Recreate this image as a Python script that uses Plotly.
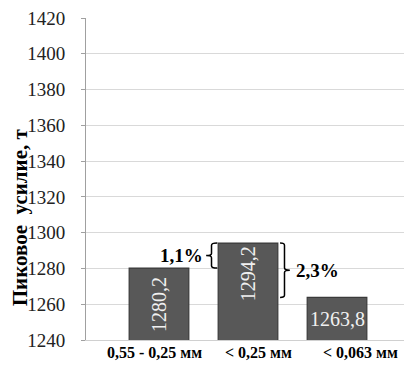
import plotly.graph_objects as go

categories = ["0,55 - 0,25 мм", "< 0,25 мм", "< 0,063 мм"]
values = [1280.2, 1294.2, 1263.8]
y_ticks = [1240, 1260, 1280, 1300, 1320, 1340, 1360, 1380, 1400, 1420]
diff_labels = ["1,1%", "2,3%"]
y_title = "Пиковое  усилие, т"

SERIF = "Liberation Serif"
xs = list(range(len(categories)))

fig = go.Figure()
fig.add_trace(go.Bar(
    x=xs, y=values, base=0, width=0.67,
    marker=dict(color="#585858", line=dict(color="#3a3a3a", width=1.2)),
    hoverinfo="skip",
))

def fmt(v):
    return f"{v:.1f}".replace(".", ",")

ymin = y_ticks[0]
LBL = "#f0f0f0"
# value labels
fig.add_annotation(x=xs[0], y=(ymin + values[0]) / 2, text=fmt(values[0]), textangle=-90,
                   showarrow=False, font=dict(family=SERIF, size=20, color=LBL))
fig.add_annotation(x=xs[1], y=values[1] - 17.5, text=fmt(values[1]), textangle=-90,
                   showarrow=False, font=dict(family=SERIF, size=20, color=LBL))
fig.add_annotation(x=xs[2], y=(ymin + values[2]) / 2, text=fmt(values[2]),
                   showarrow=False, font=dict(family=SERIF, size=20, color=LBL))

# category labels (slightly offset as in reference)
label_offsets = [-0.045, 0.12, 0.26]
for i, c in enumerate(categories):
    fig.add_annotation(x=xs[i] + label_offsets[i], y=0, yref="paper", yshift=-23, text=f"<b>{c}</b>",
                       showarrow=False, font=dict(family=SERIF, size=16, color="black"))

# left brace "{" between bar 1 top and bar 2 top
yt, yb = values[1], values[0]
ym = (yt + yb) / 2
xe, xsp, xt = 0.655, 0.59, 0.53
c = 1.2
path_l = (f"M {xe},{yt} Q {xsp},{yt} {xsp},{yt - c} L {xsp},{ym + c} Q {xsp},{ym} {xt},{ym} "
          f"Q {xsp},{ym} {xsp},{ym - c} L {xsp},{yb + c} Q {xsp},{yb} {xe},{yb}")
fig.add_shape(type="path", path=path_l, line=dict(color="black", width=1.5), xref="x", yref="y")
fig.add_annotation(x=xt, y=ym, xanchor="right", text=f"<b>{diff_labels[0]}</b>", showarrow=False,
                   xshift=-1, font=dict(family=SERIF, size=19, color="black"))

# right brace "}" from bar 2 top to bar 3 top
yt, yb = values[1], values[2]
ym = (yt + yb) / 2
xe, xsp, xt = 1.36, 1.41, 1.47
path_r = (f"M {xe},{yt} Q {xsp},{yt} {xsp},{yt - c} L {xsp},{ym + c} Q {xsp},{ym} {xt},{ym} "
          f"Q {xsp},{ym} {xsp},{ym - c} L {xsp},{yb + c} Q {xsp},{yb} {xe},{yb}")
fig.add_shape(type="path", path=path_r, line=dict(color="black", width=1.5), xref="x", yref="y")
fig.add_annotation(x=xt, y=ym, xanchor="left", text=f"<b>{diff_labels[1]}</b>", showarrow=False,
                   xshift=4, font=dict(family=SERIF, size=19, color="black"))

# y title
fig.add_annotation(x=-66 / 322, xref="paper", y=0.38, yref="paper", text=f"<b>{y_title}</b>",
                   xanchor="center", yanchor="middle",
                   textangle=-90, showarrow=False, font=dict(family=SERIF, size=21, color="black"))

fig.update_layout(
    width=404, height=367,
    margin=dict(l=78, r=2, t=10, b=35, autoexpand=False),
    paper_bgcolor="white", plot_bgcolor="white",
    showlegend=False,
    font=dict(family=SERIF),
    xaxis=dict(range=[-0.82, 2.82], showticklabels=False, showgrid=False, zeroline=False,
               showline=True, linecolor="#d0d0d0", linewidth=1, fixedrange=True, automargin=False),
    yaxis=dict(range=[y_ticks[0], y_ticks[-1]], tickvals=y_ticks, showgrid=True,
               gridcolor="#d9d9d9", gridwidth=1, zeroline=False, automargin=False,
               showline=True, linecolor="#a0a0a0", linewidth=1, ticklabeloverflow="allow",
               ticks="outside", ticklen=4, tickcolor="#a0a0a0", ticklabelstandoff=12,
               tickfont=dict(family=SERIF, size=19, color="#222222")),
)

fig.write_html("out.html")
